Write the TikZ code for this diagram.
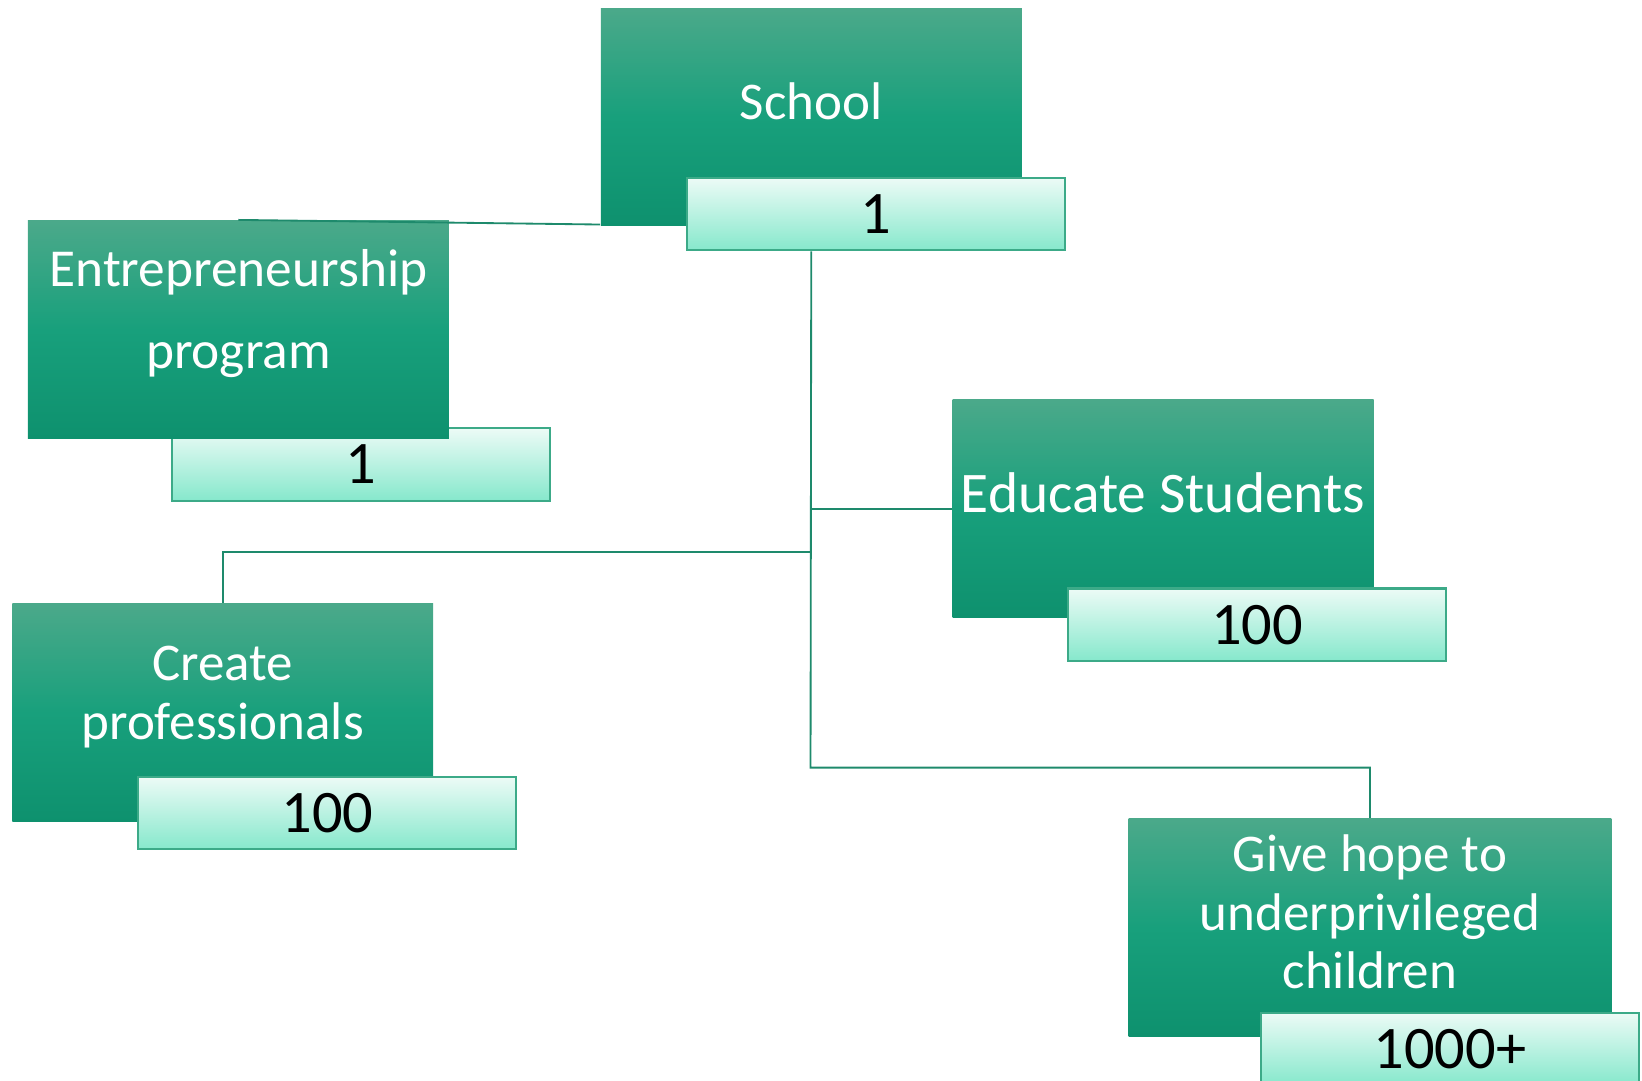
\documentclass[tikz,border=0pt]{standalone}
\usepackage{fontspec}
\setmainfont{Carlito}

\definecolor{boxtop}{RGB}{75,169,138}
\definecolor{boxmiddle}{RGB}{24,160,124}
\definecolor{boxbottom}{RGB}{14,145,110}
\definecolor{valtop}{RGB}{236,251,246}
\definecolor{valbottom}{RGB}{134,232,204}
\definecolor{valborder}{RGB}{60,170,136}
\definecolor{linkcol}{RGB}{30,138,108}

\begin{document}
\begin{tikzpicture}[x=0.1mm, y=-0.1mm,
        mainbox/.style={rectangle, anchor=north west, inner sep=0pt, minimum width=4.02cm, minimum height=2.08cm, top color=boxtop, bottom color=boxbottom, middle color=boxmiddle},
        boxtext/.style={text=white, align=center, font=\fontsize{14.4}{15.9}\selectfont, yshift=0.15cm},
        valbox/.style={rectangle, anchor=north west, inner sep=0pt, minimum width=3.61cm, minimum height=0.69cm, draw=valborder, line width=0.6pt, top color=valtop, bottom color=valbottom, font=\fontsize{16.4}{18}\selectfont},
        link/.style={draw=linkcol, line width=0.5pt}
    ]
        \useasboundingbox (0,0) rectangle (1568,1032);
        % top of the tree
        \node[mainbox, label={[boxtext]center:School}] (school) at (573,7) {};
        \node[valbox] (schoolval) at (655,169) {1};
        % branches
        \node[valbox] (entrval) at (163,408) {1};
        \node[mainbox, label={[boxtext, font=\fontsize{14.5}{22.2}\selectfont]center:Entrepreneurship\\program}] (entr) at (26,210) {};
        \node[mainbox, label={[boxtext, font=\fontsize{15.6}{17}\selectfont]center:Educate Students}] (educ) at (909,381) {};
        \node[valbox] (educval) at (1019,561) {100};
        \node[mainbox, label={[boxtext]center:Create\\professionals}] (create) at (11,576) {};
        \node[valbox] (createval) at (131,741) {100};
        \node[mainbox, minimum width=4.61cm, label={[boxtext]center:Give hope to\\underprivileged\\children}] (hope) at (1077,781) {};
        \node[valbox] (hopeval) at (1203,966) {1000+};
        % connectors
        \coordinate (createjoint) at (774,527);
        \coordinate (hopejoint) at (774,733);
        \draw[link] ([yshift=0.02cm]school.south west) -- (entr.north);
        \draw[link] (school.south |- schoolval.south) -- (hopejoint) -| (hope.north);
        \draw[link] (educ.west -| school.south) -- (educ.west);
        \draw[link] (createjoint) -| (create.north);
    \end{tikzpicture}
\end{document}
